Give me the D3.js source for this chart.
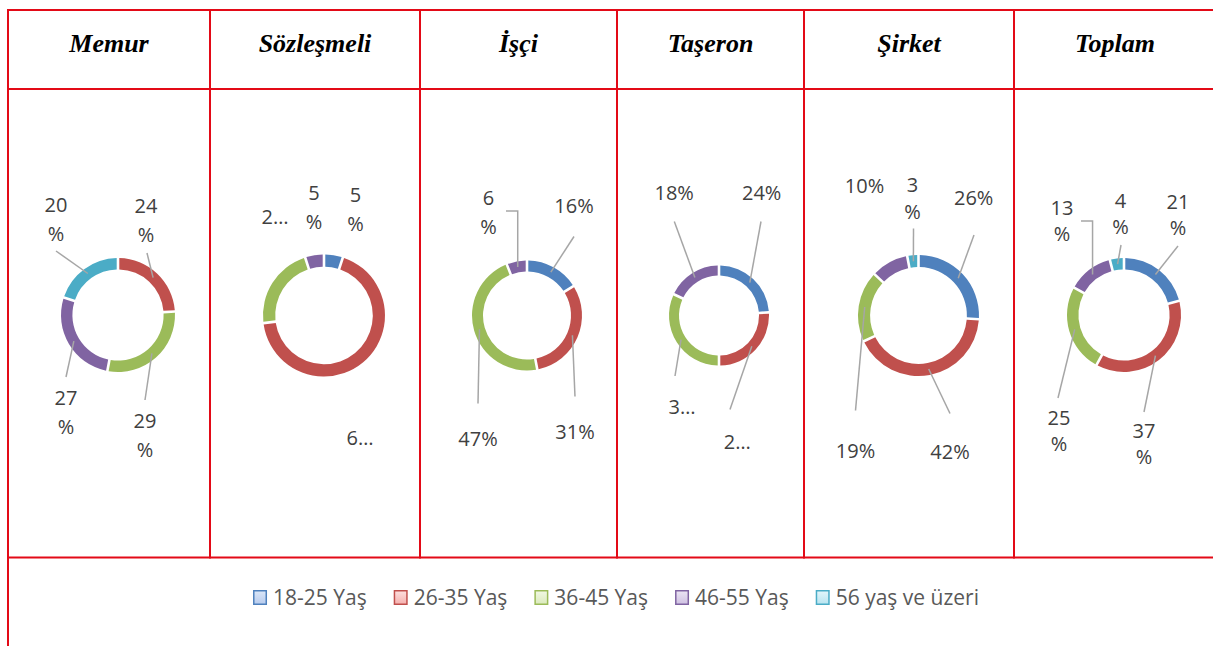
<!DOCTYPE html>
<html>
<head>
<meta charset="utf-8">
<script src="https://cdn.jsdelivr.net/npm/d3@7"></script>
<style>
  html, body { margin: 0; padding: 0; background: #ffffff; }
  svg { display: block; }
</style>
</head>
<body>
<svg id="chart" width="1213" height="646"></svg>
<script>
// ---------------- DATA ----------------
const categories = ["Memur", "Sözleşmeli", "İşçi", "Taşeron", "Şirket", "Toplam"];
const seriesNames = ["18-25 Yaş", "26-35 Yaş", "36-45 Yaş", "46-55 Yaş", "56 yaş ve üzeri"];
const age18_25  = [0, 5, 16, 24, 26, 21];
const age26_35  = [24, 68, 31, 26, 42, 37];
const age36_45  = [29, 22, 47, 32, 19, 25];
const age46_55  = [27, 5, 6, 18, 10, 13];
const age56plus = [20, 0, 0, 0, 3, 4];
const seriesValues = [age18_25, age26_35, age36_45, age46_55, age56plus];

// ---------------- STYLE / LAYOUT ----------------
const seriesColors = ["#4F81BD", "#C0504D", "#9BBB59", "#8064A2", "#4BACC6"];
const legendFill = [["#dce7f8", "#b7cbed"], ["#fde0df", "#f5b0ae"], ["#f1f8e4", "#dbeabc"], ["#ebe4f3", "#cfc1e2"], ["#e4f6fb", "#b8e4f0"]];
const gridColor = "#e30a17";
const columnEdges = [8, 210, 420, 617, 804, 1014, 1216];
const rowEdges = [10, 89, 557.5];

// chart geometry (center and outer radius of each doughnut)
const chartGeom = [
  { cx: 118,   cy: 315,   r: 57,   lineGap: 29 },
  { cx: 324,   cy: 315.5, r: 61,   lineGap: 29 },
  { cx: 527,   cy: 315.5, r: 55,   lineGap: 29 },
  { cx: 719,   cy: 315.5, r: 50,   lineGap: 28 },
  { cx: 918.5, cy: 315.5, r: 60.5, lineGap: 27 },
  { cx: 1124,  cy: 315,   r: 57,   lineGap: 26 }
];
const holeRatio = 0.8;

// label placement per chart, per series: [labelDx, labelDy, mode, leaderStart or null, elbow]
const labelPlacement = [
  [null,
   [28, -102, "wrap", [29, -62]],
   [27, 113, "wrap", [27, 85]],
   [-52, 90, "wrap", [-52, 62]],
   [-62, -103, "wrap", [-62, -64]]],
  [[31.5, -114, "wrap", null],
   [36, 129.5, "trunc", null],
   [-49, -91.5, "trunc", null],
   [-10, -116, "wrap", null],
   null],
  [[47, -103, "inline", [47, -79]],
   [48, 123, "inline", [48, 81]],
   [-49, 130.5, "inline", [-49, 88]],
   [-38.5, -110.5, "wrap", [-21, -104.5], true],
   null],
  [[42.7, -116, "inline", [42, -94]],
   [18.3, 133, "trunc", [11, 94]],
   [-37, 98.5, "trunc", [-44, 60.5]],
   [-44.8, -116, "inline", [-44.7, -94]],
   null],
  [[55.2, -110.5, "inline", [55.5, -80.5]],
   [31.5, 143.5, "inline", [31.5, 98]],
   [-63, 142, "inline", [-63, 95]],
   [-54, -123, "inline", null],
   [-6, -124, "wrap", [-5, -87]]],
  [[54, -106, "wrap", [54, -69]],
   [20, 123, "wrap", [20, 97]],
   [-65, 110, "wrap", [-66, 83]],
   [-62, -100, "wrap", [-43, -94], true],
   [-3.5, -107, "wrap", [-3, -70]]]
];

const labelFont = "'Open Sans', Carlito, Lato, sans-serif";

// ---------------- DRAW ----------------
const svg = d3.select("#chart");
svg.append("rect").attr("width", 1213).attr("height", 646).attr("fill", "#ffffff");

// table grid
const grid = svg.append("g").attr("stroke", gridColor).attr("stroke-width", 2).attr("fill", "none");
grid.append("line").attr("x1", columnEdges[0]).attr("x2", 1213).attr("y1", rowEdges[0]).attr("y2", rowEdges[0]);
grid.append("line").attr("x1", columnEdges[0]).attr("x2", 1213).attr("y1", rowEdges[1]).attr("y2", rowEdges[1]);
grid.append("line").attr("x1", columnEdges[0]).attr("x2", 1213).attr("y1", rowEdges[2]).attr("y2", rowEdges[2]);
grid.append("line").attr("x1", columnEdges[0]).attr("x2", columnEdges[0]).attr("y1", rowEdges[0] - 1).attr("y2", 646);
columnEdges.slice(1).forEach(x => {
  grid.append("line").attr("x1", x).attr("x2", x).attr("y1", rowEdges[0] - 1).attr("y2", rowEdges[2] + 1);
});

// headers
categories.forEach((c, i) => {
  const x0 = columnEdges[i], x1 = columnEdges[i + 1];
  svg.append("text")
    .attr("x", (x0 + x1) / 2)
    .attr("y", 52)
    .attr("text-anchor", "middle")
    .attr("font-family", "'Liberation Serif', 'Times New Roman', serif")
    .attr("font-weight", "bold")
    .attr("font-style", "italic")
    .attr("font-size", 26)
    .attr("fill", "#000000")
    .text(c);
});

// doughnuts
const pie = d3.pie().sort(null).value(d => d.value)
  .startAngle(0).endAngle(2 * Math.PI);

categories.forEach((cat, ci) => {
  const g = chartGeom[ci];
  const rows = seriesNames.map((s, si) => ({ series: s, si, value: seriesValues[si][ci] }))
                          .filter(d => d.value > 0);
  const arcs = pie(rows);
  const rInner = g.r * holeRatio;
  const arc = d3.arc().innerRadius(rInner).outerRadius(g.r)
    .padAngle(2.6 / g.r).padRadius(g.r);
  const midArc = d3.arc().innerRadius((g.r + rInner) / 2).outerRadius((g.r + rInner) / 2);

  const cg = svg.append("g").attr("transform", `translate(${g.cx},${g.cy})`);
  cg.selectAll("path.slice").data(arcs).join("path")
    .attr("class", "slice")
    .attr("d", arc)
    .attr("fill", d => seriesColors[d.data.si]);

  // leader lines
  arcs.forEach(a => {
    const p = labelPlacement[ci][a.data.si];
    if (!p || !p[3]) return;
    const c = midArc.centroid(a);
    const s = p[3];
    const path = d3.path();
    path.moveTo(s[0], s[1]);
    if (p[4]) { path.lineTo(c[0], s[1]); path.lineTo(c[0], c[1]); }
    else path.lineTo(c[0], c[1]);
    cg.append("path").attr("d", path.toString())
      .attr("fill", "none").attr("stroke", "#a6a6a6").attr("stroke-width", 1.5);
  });

  // labels
  arcs.forEach(a => {
    const p = labelPlacement[ci][a.data.si];
    if (!p) return;
    const v = a.data.value;
    const t = cg.append("text")
      .attr("text-anchor", "middle")
      .attr("font-family", labelFont)
      .attr("font-size", 20)
      .attr("fill", "#404040");
    if (p[2] === "wrap") {
      t.append("tspan").attr("x", p[0]).attr("y", p[1]).text(String(v));
      t.append("tspan").attr("x", p[0]).attr("y", p[1] + g.lineGap).text("%");
    } else if (p[2] === "trunc") {
      t.attr("x", p[0]).attr("y", p[1]).text(String(v).charAt(0) + "…");
    } else {
      t.attr("x", p[0]).attr("y", p[1]).text(v + "%");
    }
  });
});

// legend
const legend = svg.append("g");
const defs = svg.append("defs");
seriesNames.forEach((s, i) => {
  const grad = defs.append("linearGradient").attr("id", "lg" + i)
    .attr("x1", 0).attr("y1", 0).attr("x2", 0).attr("y2", 1);
  grad.append("stop").attr("offset", "0%").attr("stop-color", legendFill[i][0]);
  grad.append("stop").attr("offset", "100%").attr("stop-color", legendFill[i][1]);
});
const items = seriesNames.map((s, i) => {
  const gi = legend.append("g");
  gi.append("rect").attr("x", 0.75).attr("y", 590.75).attr("width", 12.5).attr("height", 13.5)
    .attr("fill", `url(#lg${i})`).attr("stroke", seriesColors[i]).attr("stroke-width", 1.5);
  const tx = gi.append("text").attr("x", 20).attr("y", 605)
    .attr("font-family", labelFont).attr("font-size", 21).attr("fill", "#595959").text(s);
  return { gi, w: 20 + tx.node().getComputedTextLength() };
});
const itemGap = 27;
const totalW = d3.sum(items, d => d.w) + itemGap * (items.length - 1);
let x = 616 - totalW / 2;
items.forEach(it => { it.gi.attr("transform", `translate(${x},0)`); x += it.w + itemGap; });
</script>
</body>
</html>
